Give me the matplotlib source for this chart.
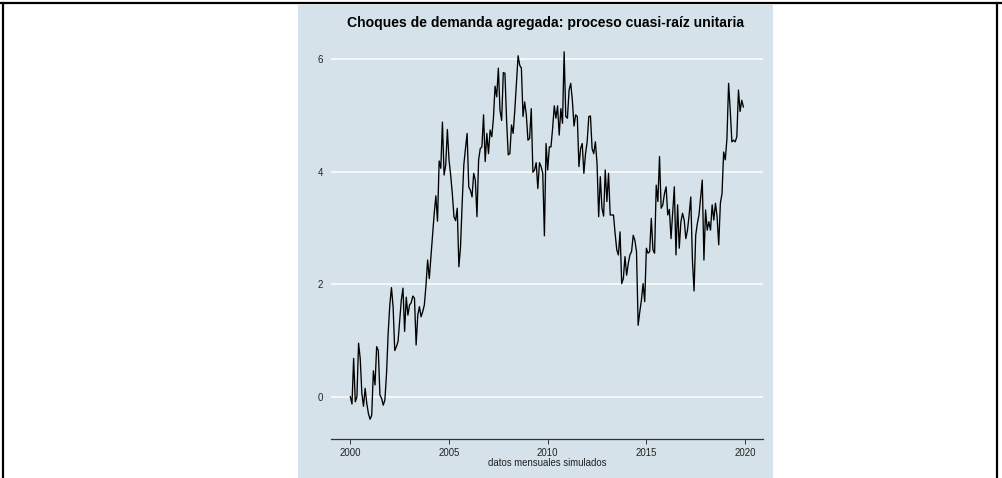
import numpy as np
import matplotlib.pyplot as plt
from matplotlib.patches import Rectangle
from matplotlib.lines import Line2D

plt.rcParams['font.family'] = ['Liberation Sans', 'DejaVu Sans']

# simulated monthly series, 2000m1 .. 2019m12
start_year = 2000
values = [
    0.00, -0.13, 0.68, -0.09, 0.00, 0.95, 0.68, 0.06, -0.17, 0.15, -0.12, -0.30,
    -0.40, -0.33, 0.46, 0.21, 0.89, 0.82, 0.03, -0.03, -0.15, -0.06, 0.41, 1.13,
    1.63, 1.94, 1.60, 0.82, 0.89, 0.98, 1.36, 1.72, 1.93, 1.16, 1.77, 1.45,
    1.63, 1.67, 1.79, 1.75, 0.92, 1.45, 1.60, 1.42, 1.51, 1.63, 1.98, 2.43,
    2.10, 2.49, 2.90, 3.26, 3.57, 3.12, 4.19, 4.06, 4.88, 3.94, 4.12, 4.75,
    4.21, 3.94, 3.61, 3.20, 3.13, 3.35, 2.31, 2.67, 3.44, 4.12, 4.41, 4.68,
    3.73, 3.67, 3.55, 3.97, 3.85, 3.20, 4.21, 4.41, 4.44, 5.01, 4.18, 4.68,
    4.32, 4.74, 4.62, 4.95, 5.52, 5.33, 5.84, 5.09, 4.91, 5.76, 5.75, 4.92,
    4.30, 4.32, 4.83, 4.68, 5.09, 5.57, 6.06, 5.89, 5.84, 4.98, 5.24, 5.01,
    4.56, 4.59, 5.12, 3.99, 4.03, 4.16, 3.70, 4.16, 4.09, 3.97, 2.86, 4.50,
    4.03, 4.44, 4.44, 4.77, 5.17, 4.95, 5.17, 4.65, 5.12, 4.86, 6.13, 4.98,
    4.95, 5.45, 5.57, 5.27, 4.81, 5.01, 4.98, 4.09, 4.41, 4.50, 3.97, 4.32,
    4.53, 4.98, 4.99, 4.41, 4.32, 4.53, 4.15, 3.20, 3.91, 3.35, 3.21, 4.03,
    3.47, 3.97, 3.23, 3.23, 3.23, 2.90, 2.61, 2.52, 2.93, 2.01, 2.10, 2.49,
    2.16, 2.37, 2.52, 2.58, 2.87, 2.78, 2.58, 1.27, 1.51, 1.72, 2.01, 1.69,
    2.64, 2.55, 2.58, 3.17, 2.61, 2.55, 3.76, 3.47, 4.27, 3.35, 3.41, 3.61,
    3.73, 3.23, 3.33, 2.81, 3.26, 3.73, 2.52, 3.41, 2.64, 3.11, 3.26, 3.14,
    2.81, 2.96, 3.23, 3.55, 2.43, 1.88, 2.87, 3.08, 3.23, 3.55, 3.85, 2.43,
    3.32, 2.96, 3.11, 2.96, 3.41, 3.14, 3.44, 3.20, 2.70, 3.44, 3.61, 4.35,
    4.21, 4.59, 5.57, 5.09, 4.53, 4.56, 4.53, 4.62, 5.45, 5.07, 5.27, 5.15,
]
y_ticks = [0, 2, 4, 6]
x_ticks = [2000, 2005, 2010, 2015, 2020]
title = "Choques de demanda agregada: proceso cuasi-raíz unitaria"
xlabel = "datos mensuales simulados"

dates = start_year + np.arange(len(values)) / 12.0
bg = "#d5e2e9"

W, H = 1002, 478
fig = plt.figure(figsize=(W / 100, H / 100), dpi=100)

# graph region background and outer frame
fig.add_artist(Rectangle((298 / W, 0), 475 / W, 1 - 5 / H,
                         transform=fig.transFigure, facecolor=bg, edgecolor='none', zorder=0))
for xs, ys in [([0, 1], [1 - 3 / H] * 2), ([3 / W] * 2, [0, 1 - 3 / H]),
               ([1 - 5 / W] * 2, [0, 1 - 3 / H])]:
    fig.add_artist(Line2D(xs, ys, color='black', linewidth=1.6, transform=fig.transFigure))

ax = fig.add_axes([331 / W, 1 - 438.7 / H, 432 / W, (438.7 - 40) / H])
ax.set_facecolor(bg)
ax.plot(dates, values, color='black', linewidth=0.95, zorder=3)

ax.set_xlim(1999.02, 2020.91)
ax.set_ylim(-0.746, 6.34)
ax.set_yticks(y_ticks)
ax.set_xticks(x_ticks)
ax.grid(axis='y', color='white', linewidth=1.1)
ax.set_axisbelow(True)

for side in ['top', 'right', 'left']:
    ax.spines[side].set_visible(False)
ax.spines['bottom'].set_color('#333333')
ax.spines['bottom'].set_linewidth(0.9)

ax.tick_params(axis='y', length=0, pad=6, labelsize=6.9, labelcolor='#222222')
ax.tick_params(axis='x', length=3.5, width=0.7, color='#333333', pad=3,
               labelsize=6.9, labelcolor='#222222')
ax.set_xlabel(xlabel, fontsize=6.9, color='#222222', labelpad=0)

fig.text(546 / W, 1 - 22.5 / H, title, fontsize=10.1, fontweight='bold',
         ha='center', va='center')

plt.savefig("out.png", dpi=100)
